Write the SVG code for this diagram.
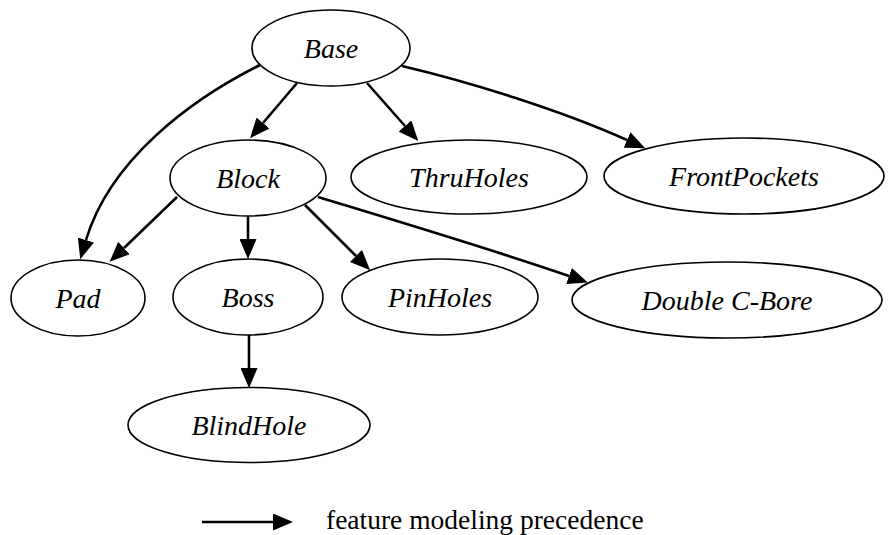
<svg xmlns="http://www.w3.org/2000/svg" width="896" height="535" viewBox="0 0 896 535">
  <style>
    .node ellipse { fill: #ffffff; stroke: #000000; stroke-width: 1.6; }
    .node text { font-family: "Liberation Serif", "Times New Roman", serif; font-style: italic; font-size: 28px; fill: #000000; text-anchor: middle; }
    .edge { fill: none; stroke: #000000; stroke-width: 2.6; marker-end: url(#arrow); }
    .legend-text { font-family: "Liberation Serif", "Times New Roman", serif; font-size: 27.5px; fill: #000000; }
  </style>
  <defs>
    <marker id="arrow" viewBox="0 0 20 17" markerWidth="20" markerHeight="17" markerUnits="userSpaceOnUse" refX="0" refY="8.5" orient="auto">
      <path d="M0,0 L20,8.5 L0,17 Z" fill="#000000"/>
    </marker>
  </defs>
  <rect width="896" height="535" fill="#ffffff"/>

  <!-- precedence edges -->
  <g id="edges">
    <path class="edge" d="M260,65 C190,100 110,160 86,240"/>
    <path class="edge" d="M297,83 L263,123"/>
    <path class="edge" d="M367,83 L405,126"/>
    <path class="edge" d="M402,66 C470,82 560,110 627,140"/>
    <path class="edge" d="M177,197 L124,248"/>
    <path class="edge" d="M248,216 L248,239"/>
    <path class="edge" d="M305,205 L356,256"/>
    <path class="edge" d="M318,197 C400,222 500,252 569,276"/>
    <path class="edge" d="M249,335 L249,368"/>
  </g>

  <g id="node-base" class="node">
    <ellipse cx="331" cy="48" rx="79" ry="38"/>
    <text x="331" y="58">Base</text>
  </g>
  <g id="node-block" class="node">
    <ellipse cx="248" cy="178" rx="78" ry="38"/>
    <text x="248" y="188">Block</text>
  </g>
  <g id="node-thruholes" class="node">
    <ellipse cx="469" cy="177" rx="118" ry="37"/>
    <text x="469" y="187">ThruHoles</text>
  </g>
  <g id="node-frontpockets" class="node">
    <ellipse cx="744" cy="176" rx="140" ry="38"/>
    <text x="744" y="186">FrontPockets</text>
  </g>
  <g id="node-pad" class="node">
    <ellipse cx="78" cy="298" rx="67" ry="38"/>
    <text x="78" y="308">Pad</text>
  </g>
  <g id="node-boss" class="node">
    <ellipse cx="248" cy="297" rx="75" ry="38"/>
    <text x="248" y="307">Boss</text>
  </g>
  <g id="node-pinholes" class="node">
    <ellipse cx="440" cy="297" rx="98" ry="38"/>
    <text x="440" y="307">PinHoles</text>
  </g>
  <g id="node-doublecbore" class="node">
    <ellipse cx="727" cy="300" rx="155" ry="38"/>
    <text x="727" y="310">Double C-Bore</text>
  </g>
  <g id="node-blindhole" class="node">
    <ellipse cx="249" cy="425" rx="121" ry="37.5"/>
    <text x="249" y="435">BlindHole</text>
  </g>

  <!-- legend -->
  <g id="legend">
    <path class="edge" d="M202,522 L273,522"/>
    <text class="legend-text" x="326" y="529">feature modeling precedence</text>
  </g>
</svg>
